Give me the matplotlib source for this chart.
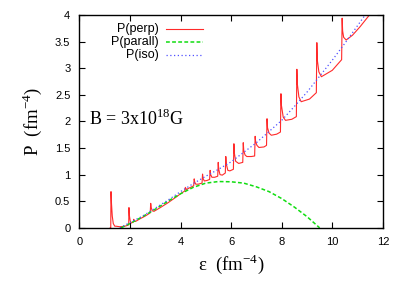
import matplotlib
matplotlib.use("Agg")
import matplotlib.pyplot as plt
from matplotlib.lines import Line2D

# ---- data ----
perp_x = [1.22, 1.24, 1.25, 1.27, 1.30, 1.34, 1.40, 1.45, 1.60, 1.80, 1.93,
          1.95, 1.96, 1.98, 2.01, 2.05, 2.10, 2.14, 2.15, 2.17, 2.22, 2.40, 2.60, 2.80,
          2.82, 2.84, 2.88, 2.95, 3.20, 3.50, 3.80, 4.00, 4.16,
          4.17, 4.19, 4.23, 4.35, 4.52,
          4.54, 4.56, 4.60, 4.70, 4.85,
          4.87, 4.89, 4.94, 5.05, 5.15,
          5.17, 5.19, 5.24, 5.35, 5.47,
          5.49, 5.51, 5.56, 5.65, 5.77,
          5.79, 5.81, 5.87, 5.95, 6.09,
          6.11, 6.13, 6.18, 6.30, 6.46,
          6.48, 6.50, 6.55, 6.62, 6.80, 6.93,
          6.95, 6.97, 7.02, 7.10, 7.30, 7.40,
          7.42, 7.44, 7.50, 7.59, 7.80, 7.95,
          7.97, 7.99, 8.06, 8.15, 8.40, 8.58,
          8.60, 8.62, 8.68, 8.77, 9.10, 9.37,
          9.39, 9.41, 9.47, 9.57, 10.00, 10.37,
          10.39, 10.41, 10.45, 10.55, 10.80, 11.10, 11.47, 11.60]
perp_y = [0.00, 0.00, 0.68, 0.45, 0.22, 0.08, 0.03, 0.03, 0.02, 0.03, 0.05,
          0.06, 0.38, 0.22, 0.13, 0.09, 0.10, 0.11, 0.16, 0.12, 0.12, 0.17, 0.22, 0.28,
          0.46, 0.38, 0.32, 0.31, 0.38, 0.47, 0.57, 0.64, 0.69,
          0.70, 0.76, 0.72, 0.75, 0.79,
          0.92, 0.86, 0.82, 0.82, 0.84,
          1.01, 0.93, 0.88, 0.89, 0.91,
          1.08, 1.00, 0.95, 0.95, 0.97,
          1.23, 1.10, 1.00, 0.99, 1.03,
          1.34, 1.20, 1.08, 1.07, 1.10,
          1.58, 1.40, 1.25, 1.21, 1.23,
          1.60, 1.45, 1.37, 1.34, 1.34, 1.35,
          1.72, 1.62, 1.55, 1.51, 1.52, 1.55,
          2.05, 1.88, 1.78, 1.74, 1.76, 1.80,
          2.52, 2.30, 2.08, 2.02, 2.04, 2.09,
          2.98, 2.70, 2.46, 2.37, 2.42, 2.54,
          3.48, 3.15, 2.93, 2.84, 2.96, 3.16,
          3.94, 3.70, 3.58, 3.53, 3.62, 3.78, 4.00, 4.08]

parall_x = [1.65, 2.0, 2.5, 3.0, 3.5, 4.0, 4.5, 5.0, 5.5, 6.0, 6.5, 7.0, 7.5, 8.0, 8.5, 9.0, 9.5]
parall_y = [0.00, 0.08, 0.21, 0.35, 0.50, 0.64, 0.76, 0.84, 0.87, 0.865, 0.84, 0.77, 0.68, 0.55, 0.39, 0.21, 0.00]

iso_x = [1.60, 2.0, 2.5, 3.0, 3.5, 4.0, 4.5, 5.0, 5.5, 6.0, 6.5, 7.0, 7.5, 8.0, 8.5, 9.0, 9.5, 10.0, 10.5, 11.0, 11.3]
iso_y = [0.00, 0.10, 0.22, 0.37, 0.52, 0.68, 0.83, 0.97, 1.10, 1.24, 1.42, 1.60, 1.81, 2.02, 2.28, 2.55, 2.85, 3.15, 3.47, 3.80, 4.00]

labels = ["P(perp)", "P(parall)", "P(iso)"]
x_ticks = [0, 2, 4, 6, 8, 10, 12]
y_ticks = [0, 0.5, 1, 1.5, 2, 2.5, 3, 3.5, 4]
y_tick_labels = ["0", "0.5", "1", "1.5", "2", "2.5", "3", "3.5", "4"]

RED = "#ff2a2a"
GREEN = "#11dd11"
BLUE = "#5050ff"

fig = plt.figure(figsize=(4.03, 2.83), dpi=100)
ax = fig.add_axes([0.197, 0.195, 0.753, 0.752])

ax.plot(perp_x, perp_y, color=RED, lw=0.8)
ax.plot(parall_x, parall_y, color=GREEN, lw=1.1, dashes=(2.5, 1.5))
ax.plot(iso_x, iso_y, color=BLUE, lw=0.9, dashes=(1, 2))

ax.set_xlim(0, 12)
ax.set_ylim(0, 4)
ax.set_xticks(x_ticks)
ax.set_yticks(y_ticks)
ax.set_yticklabels(y_tick_labels)
ax.tick_params(direction="in", length=4, width=0.8, top=True, right=True,
               labelsize=8, pad=6.5)
for lab in ax.get_xticklabels() + ax.get_yticklabels():
    lab.set_family("Liberation Sans")
for s in ax.spines.values():
    s.set_linewidth(1.0)

ax.set_xlabel(r"$\mathregular{\varepsilon}$  (fm$^{\mathregular{-4}}$)", family="Liberation Serif",
              fontsize=13.5, labelpad=4)
ax.set_ylabel(r"P  (fm$^{\mathregular{-4}}$)", family="Liberation Serif", fontsize=13.5, labelpad=8)

ax.text(0.39, 1.94, r"B = 3x10$^{\mathregular{18}}$G", family="Liberation Serif", fontsize=13,
        ha="left", va="baseline")

# gnuplot-style key: text right aligned, sample to the right
rows = [0.933, 0.873, 0.813]
styles = [dict(color=RED, lw=0.8), dict(color=GREEN, lw=1.1, dashes=(2.5, 1.5)),
          dict(color=BLUE, lw=0.9, dashes=(1, 2))]
for lab, yy, st in zip(labels, rows, styles):
    ax.text(0.26, yy, lab, transform=ax.transAxes, ha="right", va="center",
            family="Liberation Sans", fontsize=9)
    ax.add_line(Line2D([0.285, 0.406], [yy, yy], transform=ax.transAxes, **st))

fig.savefig("out.png", dpi=100)
